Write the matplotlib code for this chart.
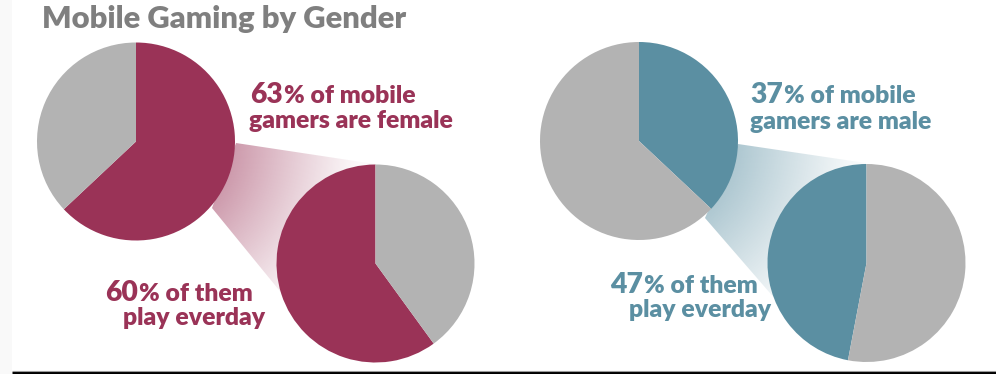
import matplotlib
matplotlib.use("Agg")
import matplotlib.pyplot as plt
import numpy as np
from matplotlib.patches import Polygon, Rectangle

# ---------------- data ----------------
title = "Mobile Gaming by Gender"
groups = ["female", "male"]
gamer_share = [63, 37]          # % of mobile gamers
daily_share = [60, 47]          # % of them play everyday
line1_rest = "% of mobile"
line2_text = ["gamers are female", "gamers are male"]
daily_rest = "% of them"
daily_line2 = "play everday"

# ---------------- style / layout ----------------
W, H = 996, 374
accent = ["#9A3357", "#5B8FA2"]
gray = "#B3B3B3"
title_color = "#7F7F7F"
FONT = "Lato"
WEIGHT = "heavy"
R = 99
big_centers = [(136, 141.5), (639, 141)]
small_centers = [(375.5, 263.5), (866.5, 263)]
polys = [
    [(236, 143), (375, 164), (375, 263), (292, 306), (212, 208)],
    [(738, 144), (866, 163), (866, 263), (776, 300), (705, 218)],
]
line1_pos = [(250, 103), (750, 103)]
line2_pos = [(249, 128), (750, 129)]
line2_w = [204, 187]
d1_pos = [(105, 301), (610, 293)]
d2_pos = [(123, 325), (629, 317)]

fig = plt.figure(figsize=(W / 100, H / 100), dpi=100)
ax = fig.add_axes([0, 0, 1, 1])
ax.set_xlim(0, W)
ax.set_ylim(H, 0)
ax.set_axis_off()
renderer = fig.canvas.get_renderer()


def text_width(s, size):
    t = ax.text(0, 0, s, fontsize=size, family=FONT, fontweight=WEIGHT)
    w = t.get_window_extent(renderer=renderer).width
    t.remove()
    return w


def fit(s, target):
    return 20 * target / text_width(s, 20)


small_size = fit(line2_text[0], line2_w[0])
big_size = fit("63", 33)

# bottom rule and left strip
ax.add_patch(Rectangle((0, 0), 12, H, facecolor="#F9F9F9", edgecolor="none", zorder=0))
ax.plot([12, W], [372.6, 372.6], color="black", lw=2.2, solid_capstyle="butt", zorder=5)
ax.plot([12, W], [370.9, 370.9], color="#9A9A9A", lw=0.8, solid_capstyle="butt", zorder=5)

# title
tsize = fit(title, 366)
ax.text(42, 28, title, fontsize=tsize, family=FONT, fontweight=WEIGHT,
        color=title_color, va="baseline", ha="left")

for i, g in enumerate(groups):
    col = accent[i]
    bc = big_centers[i]
    sc = small_centers[i]

    # gradient connector
    pts = np.array(polys[i])
    x0, y0 = pts.min(axis=0)
    x1, y1 = pts.max(axis=0)
    xs = np.linspace(x0, x1, 300)
    ys = np.linspace(y0, y1, 300)
    XX, YY = np.meshgrid(xs, ys)
    d = np.hypot(XX - bc[0], YY - bc[1])
    t = np.clip((d - R) / 125.0, 0, 1)
    alpha = 0.46 * (1 - t) ** 1.1 + 0.03
    rgb = np.array(matplotlib.colors.to_rgb(col))
    img = np.zeros((len(ys), len(xs), 4))
    img[..., :3] = rgb
    img[..., 3] = alpha
    poly = Polygon(pts, closed=True, facecolor="none", edgecolor="none")
    ax.add_patch(poly)
    im = ax.imshow(img, extent=(x0, x1, y1, y0), origin="upper",
                   interpolation="bilinear", zorder=1)
    im.set_clip_path(poly)

    # big pie: share starts at top, grows clockwise (visually; y axis inverted)
    ax.pie([gamer_share[i], 100 - gamer_share[i]], colors=[col, gray],
           center=bc, radius=R, startangle=-90, counterclock=True,
           wedgeprops=dict(linewidth=0), frame=True)
    # small pie: daily share starts at top, grows counterclockwise (visually)
    ax.pie([daily_share[i], 100 - daily_share[i]], colors=[col, gray],
           center=sc, radius=R, startangle=-90, counterclock=False,
           wedgeprops=dict(linewidth=0), frame=True)

    # labels
    def two_part(x, y, num, rest):
        t1 = ax.text(x, y, str(num), fontsize=big_size, family=FONT,
                     fontweight=WEIGHT, color=col, va="baseline", ha="left")
        bb = t1.get_window_extent(renderer=renderer)
        xr = ax.transData.inverted().transform((bb.x1, 0))[0]
        ax.text(xr + 1, y, rest, fontsize=small_size, family=FONT,
                fontweight=WEIGHT, color=col, va="baseline", ha="left")

    two_part(*line1_pos[i], gamer_share[i], line1_rest)
    ax.text(*line2_pos[i], line2_text[i], fontsize=small_size, family=FONT,
            fontweight=WEIGHT, color=col, va="baseline", ha="left")
    two_part(*d1_pos[i], daily_share[i], daily_rest)
    ax.text(*d2_pos[i], daily_line2, fontsize=small_size, family=FONT,
            fontweight=WEIGHT, color=col, va="baseline", ha="left")

ax.set_xlim(0, W)
ax.set_ylim(H, 0)
ax.set_aspect("equal")
ax.set_axis_off()
fig.savefig("out.png", dpi=100)
